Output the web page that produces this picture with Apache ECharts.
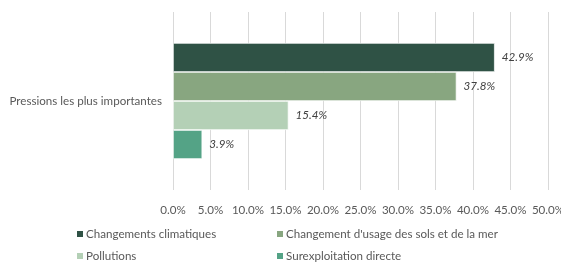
<!DOCTYPE html>
<html><head><meta charset="utf-8">
<script src="https://cdn.jsdelivr.net/npm/echarts@6/dist/echarts.min.js"></script>
<style>html,body{margin:0;padding:0;background:#fff}#c{width:561px;height:262px}</style>
</head><body><div id="c"></div>
<script>
const categories = ['Pressions les plus importantes'];
const seriesNames = ['Changements climatiques', "Changement d'usage des sols et de la mer", 'Pollutions', 'Surexploitation directe'];
const climatiques = [42.9];
const usageSols = [37.8];
const pollutions = [15.4];
const surexploitation = [3.9];
const colors = ['#2f5245', '#88a680', '#b4d0b6', '#54a386'];
const values = [climatiques, usageSols, pollutions, surexploitation];

const chart = echarts.init(document.getElementById('c'), null, {renderer: 'canvas'});
const font = 'Lato';
const fs = 11.6;
const legendPos = [[75, 228], [275, 228], [75, 250], [275, 250]];
chart.setOption({
  animation: false,
  textStyle: {fontFamily: font},
  grid: {left: 173, right: 13, top: 12, bottom: 72, containLabel: false, outerBoundsMode: 'none'},
  xAxis: {
    type: 'value', min: 0, max: 50, interval: 5,
    axisLine: {show: false}, axisTick: {show: false},
    splitLine: {lineStyle: {color: '#d9d9d9', width: 1}},
    axisLabel: {formatter: v => v.toFixed(1) + '%', color: '#595959', fontSize: fs, fontFamily: font, margin: 14}
  },
  yAxis: {
    type: 'category', data: categories, inverse: true,
    axisLine: {show: false}, axisTick: {show: false},
    axisLabel: {color: '#595959', fontSize: fs, fontFamily: font, margin: 11}
  },
  legend: seriesNames.map((n, i) => ({
    data: [n], left: legendPos[i][0], top: legendPos[i][1], icon: 'rect',
    itemWidth: 8, itemHeight: 8, itemGap: 4, padding: 0,
    textStyle: {color: '#595959', fontSize: fs, fontFamily: font, padding: [0, 0, 0, -3]}
  })),
  series: seriesNames.map((n, i) => ({
    name: n, type: 'bar', data: values[i], barWidth: 29, barGap: '0%',
    itemStyle: {color: colors[i], borderColor: '#ffffff', borderWidth: 0.7},
    label: {show: true, position: 'right', distance: 7, formatter: p => p.value.toFixed(1) + '%',
      color: '#404040', fontSize: fs, fontStyle: 'italic', fontFamily: font}
  }))
});
</script></body></html>
